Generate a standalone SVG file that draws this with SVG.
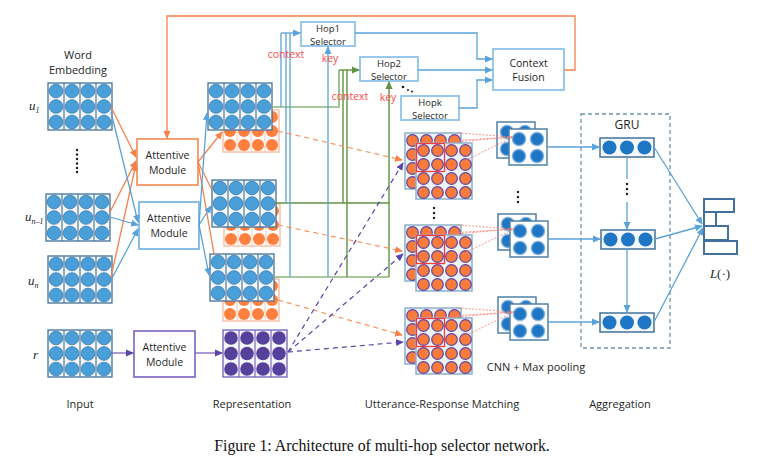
<svg xmlns="http://www.w3.org/2000/svg" xmlns:xlink="http://www.w3.org/1999/xlink" width="760" height="467" viewBox="0 0 760 467">
<style>
.t{font-family:"Open Sans","Noto Sans","Liberation Sans",sans-serif;fill:#1f1f1f;text-anchor:middle}
.s{font-size:11px}
.m{font-size:10.5px}
.h{font-size:9.5px}
.red{font-family:"Open Sans","Noto Sans","Liberation Sans",sans-serif;font-size:10.5px;fill:#ff4b4b;text-anchor:middle}
.it{font-family:"Liberation Serif",serif;font-style:italic;fill:#1f1f1f}
.cap{font-family:"Liberation Serif",serif;font-size:15.8px;fill:#111;text-anchor:middle}
.lb{fill:none;stroke:#5aa3da;stroke-width:1.3}
.lo{fill:none;stroke:#f4804a;stroke-width:1.3}
.lg{fill:none;stroke:#5f9340;stroke-width:1.4}
.lgl{fill:none;stroke:#8db57a;stroke-width:1.6}
.dpo{fill:none;stroke:#f8965f;stroke-width:1.2;stroke-dasharray:5 4}
.dpp{fill:none;stroke:#5a45a8;stroke-width:1.2;stroke-dasharray:5 4}
.rd{fill:none;stroke:#f47a6c;stroke-width:0.8;stroke-dasharray:2 1.5}
.box{fill:#fff;stroke-width:1.6}
.sel{fill:#fff;stroke:#8ec3e8;stroke-width:1.8}
.dot{fill:#1a1a2e}
</style>
<defs>
<marker id="ab" markerWidth="8" markerHeight="8" refX="7" refY="4" orient="auto" markerUnits="userSpaceOnUse"><path d="M0,0.5 L8,4 L0,7.5 z" fill="#5aa3da"/></marker>
<marker id="ao" markerWidth="8" markerHeight="8" refX="7" refY="4" orient="auto" markerUnits="userSpaceOnUse"><path d="M0,0.5 L8,4 L0,7.5 z" fill="#f4804a"/></marker>
<marker id="ag" markerWidth="8" markerHeight="8" refX="7" refY="4" orient="auto" markerUnits="userSpaceOnUse"><path d="M0,0.5 L8,4 L0,7.5 z" fill="#5f9340"/></marker>
<marker id="ap" markerWidth="8" markerHeight="8" refX="7" refY="4" orient="auto" markerUnits="userSpaceOnUse"><path d="M0,0.5 L8,4 L0,7.5 z" fill="#5a45a8"/></marker>
<radialGradient id="pg">
<stop offset="0.7" stop-color="#1f76c4"/>
<stop offset="1" stop-color="#c9def0"/>
</radialGradient>
<g id="bm">
<rect x="0" y="0" width="64" height="47" fill="#f3f7fa" stroke="#41719c" stroke-width="1.3"/>
<path d="M16,0V47M32,0V47M48,0V47" stroke="#41719c" stroke-width="1.1"/>
<g fill="#4a9fd8" stroke="#3577ad" stroke-width="0.8">
<circle cx="8" cy="8" r="6.8"/><circle cx="24" cy="8" r="6.8"/><circle cx="40" cy="8" r="6.8"/><circle cx="56" cy="8" r="6.8"/>
<circle cx="8" cy="23.5" r="6.8"/><circle cx="24" cy="23.5" r="6.8"/><circle cx="40" cy="23.5" r="6.8"/><circle cx="56" cy="23.5" r="6.8"/>
<circle cx="8" cy="39" r="6.8"/><circle cx="24" cy="39" r="6.8"/><circle cx="40" cy="39" r="6.8"/><circle cx="56" cy="39" r="6.8"/>
</g>
</g>
<g id="pm">
<rect x="0" y="0" width="64" height="47" fill="#f6f4fb" stroke="#7060b8" stroke-width="1.3"/>
<path d="M16,0V47M32,0V47M48,0V47" stroke="#7060b8" stroke-width="1.1"/>
<g fill="#55409c">
<circle cx="8" cy="8" r="6.8"/><circle cx="24" cy="8" r="6.8"/><circle cx="40" cy="8" r="6.8"/><circle cx="56" cy="8" r="6.8"/>
<circle cx="8" cy="23.5" r="6.8"/><circle cx="24" cy="23.5" r="6.8"/><circle cx="40" cy="23.5" r="6.8"/><circle cx="56" cy="23.5" r="6.8"/>
<circle cx="8" cy="39" r="6.8"/><circle cx="24" cy="39" r="6.8"/><circle cx="40" cy="39" r="6.8"/><circle cx="56" cy="39" r="6.8"/>
</g>
</g>
<g id="om">
<rect x="0" y="0" width="56" height="42" fill="#fff" stroke="#f9b89a" stroke-width="1.3"/>
<path d="M14,0V42M28,0V42M42,0V42" stroke="#fbcab2" stroke-width="1"/>
<g fill="#ff7f3f">
<circle cx="7" cy="7" r="6"/><circle cx="21" cy="7" r="6"/><circle cx="35" cy="7" r="6"/><circle cx="49" cy="7" r="6"/>
<circle cx="7" cy="21" r="6"/><circle cx="21" cy="21" r="6"/><circle cx="35" cy="21" r="6"/><circle cx="49" cy="21" r="6"/>
<circle cx="7" cy="35" r="6"/><circle cx="21" cy="35" r="6"/><circle cx="35" cy="35" r="6"/><circle cx="49" cy="35" r="6"/>
</g>
</g>
<g id="mm">
<rect x="0" y="0" width="56" height="56" fill="#eef3f8" stroke="#8fb0cc" stroke-width="1.5"/>
<g fill="#f97b3c" stroke="#5d46a6" stroke-width="1.2">
<circle cx="7.5" cy="7.5" r="5.8"/><circle cx="21.5" cy="7.5" r="5.8"/><circle cx="35.5" cy="7.5" r="5.8"/><circle cx="49.5" cy="7.5" r="5.8"/>
<circle cx="7.5" cy="21.5" r="5.8"/><circle cx="21.5" cy="21.5" r="5.8"/><circle cx="35.5" cy="21.5" r="5.8"/><circle cx="49.5" cy="21.5" r="5.8"/>
<circle cx="7.5" cy="35.5" r="5.8"/><circle cx="21.5" cy="35.5" r="5.8"/><circle cx="35.5" cy="35.5" r="5.8"/><circle cx="49.5" cy="35.5" r="5.8"/>
<circle cx="7.5" cy="49.5" r="5.8"/><circle cx="21.5" cy="49.5" r="5.8"/><circle cx="35.5" cy="49.5" r="5.8"/><circle cx="49.5" cy="49.5" r="5.8"/>
</g>
</g>
<g id="pl">
<rect x="0" y="0" width="38" height="36" fill="#fff" stroke="#4f81a8" stroke-width="1.5"/>
<g fill="url(#pg)">
<circle cx="10" cy="10" r="7.5"/><circle cx="28" cy="10" r="7.5"/><circle cx="10" cy="27" r="7.5"/><circle cx="28" cy="27" r="7.5"/>
</g>
</g>
<g id="gr">
<rect x="0" y="0" width="54" height="19" fill="#f5f8fb" stroke="#41719c" stroke-width="1.5"/>
<g fill="#1f76c4"><circle cx="9.5" cy="9.5" r="7"/><circle cx="27" cy="9.5" r="7"/><circle cx="44.5" cy="9.5" r="7"/></g>
</g>
</defs>
<rect width="760" height="467" fill="#fff"/>

<g id="input">
<text class="t s" x="78" y="59">Word</text>
<text class="t s" x="78" y="74">Embedding</text>
<g id="u1"><use href="#bm" x="48" y="83"/><text class="it" x="29" y="110" font-size="13">u<tspan font-size="8" dy="3">1</tspan></text></g>
<g id="dots-in" class="dot"><circle cx="77" cy="150" r="1.2"/><circle cx="77" cy="154.5" r="1.2"/><circle cx="77" cy="159" r="1.2"/><circle cx="77" cy="163.5" r="1.2"/><circle cx="77" cy="168" r="1.2"/><circle cx="77" cy="172" r="1.2"/></g>
<g id="un1"><use href="#bm" x="46" y="194"/><text class="it" x="25" y="221" font-size="13">u<tspan font-size="8" dy="3">n–1</tspan></text></g>
<g id="un"><use href="#bm" x="48" y="256"/><text class="it" x="28" y="285" font-size="13">u<tspan font-size="8" dy="3">n</tspan></text></g>
<g id="r"><use href="#bm" x="48" y="330"/><text class="it" x="33" y="359" font-size="13">r</text></g>
</g>

<g id="att1"><rect class="box" x="137" y="139" width="61" height="46" stroke="#f4884f"/><text class="t m" x="167.5" y="159">Attentive</text><text class="t m" x="167.5" y="174">Module</text></g>
<g id="att2"><rect class="box" x="139" y="202" width="60" height="47" stroke="#6cb0e0"/><text class="t m" x="169" y="222">Attentive</text><text class="t m" x="169" y="237">Module</text></g>
<g id="att3"><rect class="box" x="134" y="331" width="61" height="46" stroke="#7b62bf"/><text class="t m" x="164.5" y="351">Attentive</text><text class="t m" x="164.5" y="366">Module</text></g>

<g id="rep">
<g id="rep1"><use href="#om" x="223" y="110"/><use href="#bm" x="208" y="83"/></g>
<g id="rep2"><use href="#om" x="224" y="204"/><use href="#bm" x="212" y="180"/></g>
<g id="rep3"><use href="#om" x="223" y="279"/><use href="#bm" x="210" y="254"/></g>
<g id="repr"><use href="#pm" x="223" y="330"/></g>
</g>

<g id="hop1"><rect class="sel" x="301" y="22" width="54" height="24"/><text class="t h" x="328" y="32">Hop1</text><text class="t h" x="328" y="45">Selector</text></g>
<g id="hop2"><rect class="sel" x="360" y="57" width="58" height="24"/><text class="t h" x="389" y="67">Hop2</text><text class="t h" x="389" y="80">Selector</text></g>
<g id="hopk"><rect class="sel" x="401" y="96" width="58" height="24"/><text class="t h" x="430" y="106">Hopk</text><text class="t h" x="430" y="119">Selector</text></g>
<g id="hopdots" class="dot"><circle cx="403" cy="87" r="1.3"/><circle cx="408" cy="90" r="1"/><circle cx="412" cy="91.5" r="1"/></g>
<g id="fusion"><rect class="sel" x="493" y="49" width="71" height="41"/><text class="t m" x="528.5" y="67">Context</text><text class="t m" x="528.5" y="81">Fusion</text></g>

<g id="matching">
<g id="m1"><use href="#mm" x="405" y="133"/><use href="#mm" x="416" y="143"/><rect x="416.5" y="143.5" width="28" height="28" fill="none" stroke="#f23c3c" stroke-width="1.3"/></g>
<g id="mdots" class="dot"><circle cx="434" cy="208" r="1.2"/><circle cx="434" cy="213" r="1.2"/><circle cx="434" cy="218" r="1.2"/></g>
<g id="m2"><use href="#mm" x="405" y="225"/><use href="#mm" x="416" y="235"/><rect x="416.5" y="235.5" width="28" height="28" fill="none" stroke="#f23c3c" stroke-width="1.3"/></g>
<g id="m3"><use href="#mm" x="405" y="308"/><use href="#mm" x="416" y="318"/><rect x="416.5" y="318.5" width="28" height="28" fill="none" stroke="#f23c3c" stroke-width="1.3"/></g>
<g id="p1"><use href="#pl" x="497" y="122"/><use href="#pl" x="509" y="129"/></g>
<g id="pdots" class="dot"><circle cx="518" cy="192" r="1.2"/><circle cx="518" cy="197" r="1.2"/><circle cx="518" cy="202" r="1.2"/></g>
<g id="p2"><use href="#pl" x="498" y="214"/><use href="#pl" x="510" y="221"/></g>
<g id="p3"><use href="#pl" x="498" y="297"/><use href="#pl" x="510" y="304"/></g>
<text class="t s" x="536" y="371">CNN + Max pooling</text>
</g>

<g id="aggregation">
<rect x="581" y="114" width="89" height="234" fill="none" stroke="#6e93ad" stroke-width="1.3" stroke-dasharray="4 3"/>
<text class="t" x="627" y="129" font-size="12">GRU</text>
<g id="g1"><use href="#gr" x="600" y="138"/></g>
<g id="gdots" class="dot"><circle cx="627" cy="184" r="1.2"/><circle cx="627" cy="189" r="1.2"/><circle cx="627" cy="194" r="1.2"/></g>
<g id="g2"><use href="#gr" x="601" y="230"/></g>
<g id="g3"><use href="#gr" x="600" y="313"/></g>
</g>

<g id="loss">
<g fill="#fff" stroke="#41719c" stroke-width="2">
<rect x="704" y="199" width="30" height="13"/><rect x="704" y="212" width="12" height="14"/><rect x="704" y="226" width="24" height="14"/><rect x="704" y="241" width="33" height="13"/>
</g>
<text class="it" x="720" y="278" font-size="13" text-anchor="middle">L<tspan font-style="normal">(·)</tspan></text>
</g>

<g id="connectors">
<path class="lo" d="M111,107L136,157" marker-end="url(#ao)"/>
<path class="lo" d="M110,212L136,161" marker-end="url(#ao)"/>
<path class="lo" d="M111,277L136,164" marker-end="url(#ao)"/>
<path class="lb" d="M111,112L138,222" marker-end="url(#ab)"/>
<path class="lb" d="M110,217L138,225" marker-end="url(#ab)"/>
<path class="lb" d="M111,280L138,229" marker-end="url(#ab)"/>
<path class="lo" d="M198,162L222,132" marker-end="url(#ao)"/>
<path class="lo" d="M198,162L212,190"/>
<path class="lo" d="M198,162L214,254"/>
<path class="lb" d="M199,225L207,113" marker-end="url(#ab)"/>
<path class="lb" d="M199,225L211,206" marker-end="url(#ab)"/>
<path class="lb" d="M199,225L209,275" marker-end="url(#ab)"/>
<path d="M111,353H133" fill="none" stroke="#7b62bf" stroke-width="1.3" marker-end="url(#ap)"/>
<path d="M195,353H222" fill="none" stroke="#7b62bf" stroke-width="1.3" marker-end="url(#ap)"/>
<path class="lo" d="M564,70H575V16H167V138" marker-end="url(#ao)"/>
<path class="lgl" d="M272,107H339V70"/>
<path class="lg" d="M275,203H389"/>
<path class="lgl" d="M273,277H389"/>
<path class="lg" d="M343,203V70M347,277V70"/>
<path class="lg" d="M339,70H359" marker-end="url(#ag)"/>
<path class="lg" d="M389,277V82" marker-end="url(#ag)"/>
<path class="lb" d="M281,107V33M286,203V33M290,277V33"/>
<path class="lb" d="M281,33H300" marker-end="url(#ab)"/>
<path class="lb" d="M328,277V47" marker-end="url(#ab)"/>
<path class="lb" d="M355,33H477V59H492" marker-end="url(#ab)"/>
<path class="lb" d="M418,70H492" marker-end="url(#ab)"/>
<path class="lb" d="M459,108H477V80H492" marker-end="url(#ab)"/>
<path class="dpo" d="M278,131L402,160" marker-end="url(#ao)"/>
<path class="dpo" d="M278,225L402,251" marker-end="url(#ao)"/>
<path class="dpo" d="M278,300L402,335" marker-end="url(#ao)"/>
<path class="dpp" d="M288,352L403,163" marker-end="url(#ap)"/>
<path class="dpp" d="M288,352L403,254" marker-end="url(#ap)"/>
<path class="dpp" d="M288,352L403,342" marker-end="url(#ap)"/>
<path class="rd" d="M444,143L513,137M444,171L513,137M417,143L513,137M458,133L513,137"/>
<path class="rd" d="M444,235L514,229M444,263L514,229M417,235L514,229M458,225L514,229"/>
<path class="rd" d="M444,318L514,312M444,346L514,312M417,318L514,312M458,308L514,312"/>
<path class="lb" d="M548,147H599" marker-end="url(#ab)"/>
<path class="lb" d="M548,239H600" marker-end="url(#ab)"/>
<path class="lb" d="M548,322H599" marker-end="url(#ab)"/>
<path class="lb" d="M627,157V179M627,202V229" marker-end="url(#ab)"/>
<path class="lb" d="M627,249V312" marker-end="url(#ab)"/>
<path class="lb" d="M654,147L702,224" marker-end="url(#ab)"/>
<path class="lb" d="M655,239L702,226" marker-end="url(#ab)"/>
<path class="lb" d="M654,322L703,228" marker-end="url(#ab)"/>
<text class="red" x="286" y="58">context</text>
<text class="red" x="330" y="62">key</text>
<text class="red" x="350" y="100">context</text>
<text class="red" x="388" y="101">key</text>
</g>

<g id="labels">
<text class="t s" x="80" y="408">Input</text>
<text class="t s" x="252" y="408">Representation</text>
<text class="t s" x="442" y="408">Utterance-Response Matching</text>
<text class="t s" x="620" y="408">Aggregation</text>
<text class="cap" x="382" y="451">Figure 1: Architecture of multi-hop selector network.</text>
</g>
</svg>
